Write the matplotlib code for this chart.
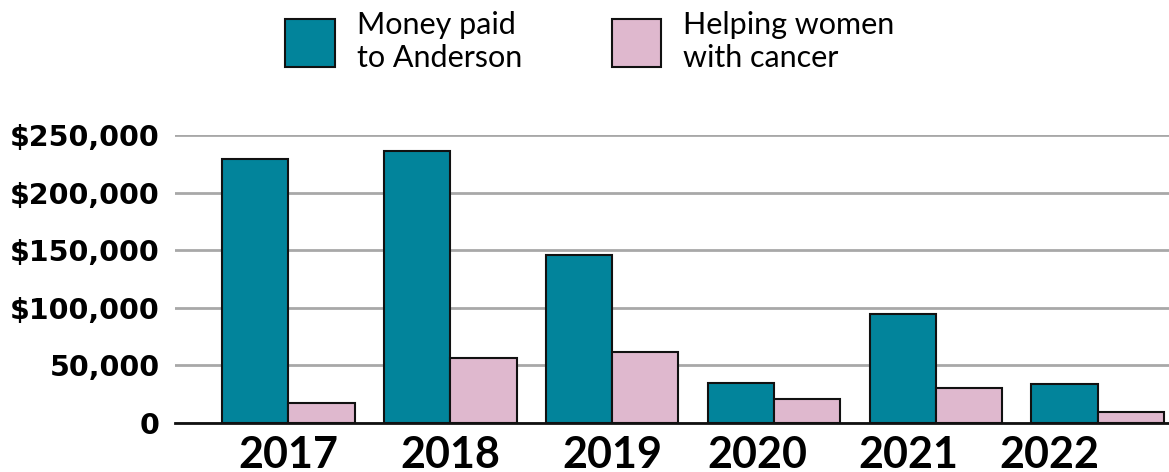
import matplotlib
matplotlib.use("Agg")
import matplotlib.pyplot as plt
import numpy as np
from matplotlib.patches import Patch

years = ["2017", "2018", "2019", "2020", "2021", "2022"]
anderson = [229000, 236000, 146000, 34500, 94500, 33500]
helping = [17500, 56500, 61500, 20500, 30500, 9500]
series_names = ["Money paid\nto Anderson", "Helping women\nwith cancer"]
yticks = [0, 50000, 100000, 150000, 200000, 250000]
ytick_labels = ["0", "50,000", "$100,000", "$150,000", "$200,000", "$250,000"]

teal = "#02849B"
pink = "#DFB8CE"

plt.rcParams['font.family'] = ['Lato', 'DejaVu Sans']

W, H = 1169, 472
fig = plt.figure(figsize=(W / 100, H / 100), dpi=100)
ax = fig.add_axes([175 / W, 1 - 423 / H, (W - 175) / W, (423 - 135) / H])

x = np.arange(len(years))
w = 0.41
ax.bar(x - w / 2, anderson, width=w, color=teal, edgecolor="#111111", linewidth=1.5, zorder=3)
ax.bar(x + w / 2, helping, width=w, color=pink, edgecolor="#111111", linewidth=1.5, zorder=3)

ax.set_xlim(-0.70, 5.44)
ax.set_ylim(0, 250000)
ax.set_yticks(yticks)
ax.set_yticklabels(ytick_labels, fontsize=20.5, fontweight="bold", family=['DejaVu Sans'])
# year labels are set slightly left of the group centres toward the right, as in the original layout
label_shift = np.array([0, 0, 0, -0.1, -0.17, -0.3])
ax.set_xticks(x + label_shift)
ax.set_xticklabels(years, fontsize=31, fontweight="bold")
ax.tick_params(axis="y", length=0, pad=11)
ax.tick_params(axis="x", length=0, pad=9)
ax.grid(axis="y", color="#a8a8a8", linewidth=2, zorder=0)
for s in ["top", "right", "left"]:
    ax.spines[s].set_visible(False)
ax.spines["bottom"].set_color("#111111")
ax.spines["bottom"].set_linewidth(2)
ax.spines["bottom"].set_zorder(4)

handles = [Patch(facecolor=teal, edgecolor="#111111", linewidth=1.5),
           Patch(facecolor=pink, edgecolor="#111111", linewidth=1.5)]
fig.legend(handles, series_names, loc="upper left", bbox_to_anchor=(285 / W, 1 - 11 / H),
           ncol=2, frameon=False, fontsize=22, handlelength=1.63, handleheight=2.0,
           handletextpad=0.72, columnspacing=2.93, labelspacing=0.15, borderpad=0,
           borderaxespad=0)

fig.savefig("out.png", dpi=100)
